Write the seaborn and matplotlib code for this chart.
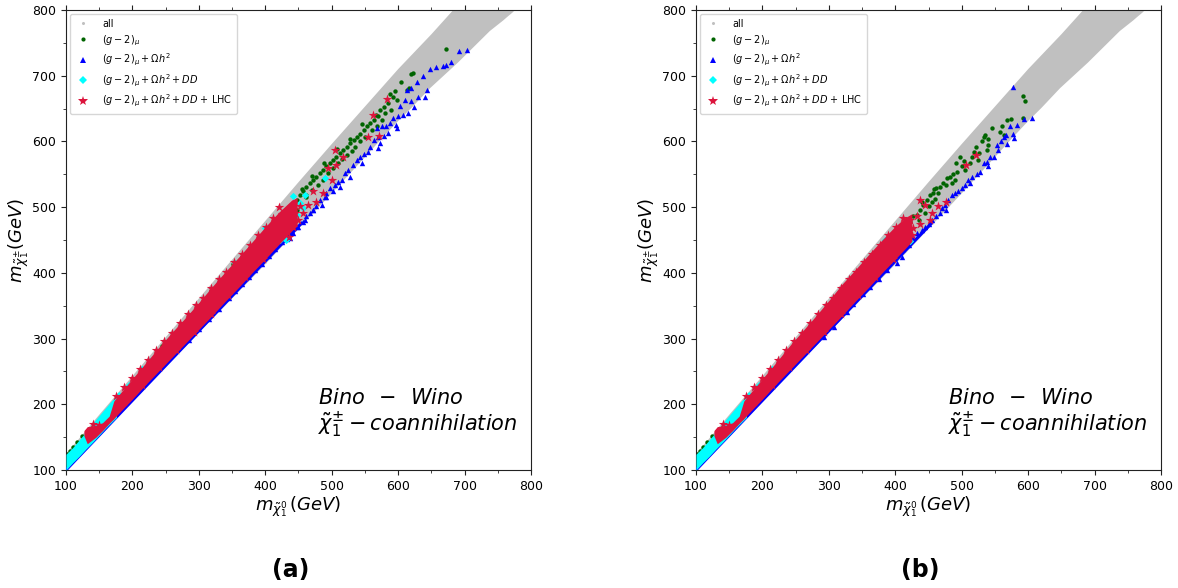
import numpy as np
import pandas as pd
import seaborn as sns
import matplotlib
matplotlib.use("Agg")
import matplotlib.pyplot as plt
from matplotlib.lines import Line2D

# ---------------------------------------------------------------- data (GeV)
# envelope of the full parameter scan ("all"), shared by both scans
all_upper_x = [100, 120, 150, 200, 250, 300, 350, 400, 450, 500, 550, 600, 650, 683, 690]
all_upper_y = [125, 148, 184, 243, 302, 361, 420, 479, 538, 596, 653, 710, 763, 800, 812]
all_lower_x = [690, 776, 772, 766, 758, 748, 738, 726, 714, 702, 690, 676, 662, 648, 634,
               620, 600, 575, 550, 500, 450, 400, 300, 200, 100]
all_lower_y = [812, 800, 796, 791, 784, 776, 768, 756, 744, 732, 720, 707, 694, 681, 666,
               651, 631, 604, 576, 521, 467, 413, 309, 204, 100]

# lower diagonal edge populated by (g-2)+relic points
edge_x = [100, 200, 300, 400, 455]
edge_y = [100, 206, 312, 418, 476]

# dense (g-2)+Omega h^2+DD+LHC strip, scan (a)
band_a_x = [127, 132, 145, 155, 165, 172, 180, 200, 220, 240, 260, 280, 300, 320, 340,
            360, 380, 400, 420, 440, 448]
band_a_hi = [160, 166, 168, 172, 182, 205, 215, 239, 263, 287, 310, 332, 355, 379, 402,
             424, 447, 470, 492, 511, 514]
band_a_lo = [152, 140, 150, 160, 171, 178, 187, 208, 230, 251, 272, 293, 314, 335, 357,
             378, 400, 421, 443, 464, 472]

# same strip, scan (b)
band_b_x = [127, 132, 145, 155, 165, 172, 180, 200, 220, 240, 260, 280, 300, 320, 340,
            360, 380, 400, 415, 425]
band_b_hi = [160, 166, 168, 172, 182, 205, 215, 239, 263, 288, 311, 334, 358, 383, 405,
             428, 450, 471, 484, 490]
band_b_lo = [152, 140, 150, 160, 171, 178, 187, 208, 230, 251, 272, 293, 314, 335, 357,
             378, 400, 421, 437, 448]

# stars sitting on the rim of the dense strip (both scans)
rim_x = [176, 188, 199, 212, 224, 236, 248, 259, 271, 283, 295, 306, 318, 330, 341, 353,
         365, 377, 389, 401, 412, 188, 214, 240, 266, 292, 318, 344, 370, 396]
rim_y = [212, 226, 240, 254, 268, 283, 297, 309, 323, 337, 351, 362, 377, 390, 402, 416,
         429, 443, 457, 470, 483, 203, 229, 256, 283, 310, 338, 366, 393, 421]

# low-mass DD region just above the diagonal
dd_corner_x = [100, 110, 120, 130, 140, 150, 160, 170, 176]
dd_corner_hi = [124, 134, 146, 158, 171, 183, 195, 207, 212]
dd_corner_lo = [100, 111, 121, 132, 142, 153, 164, 174, 180]

# (g-2)_mu points, scan (a)
g2_a_x = [102, 106, 111, 117, 124, 245, 285, 318, 352, 354, 362, 404, 447, 462,
          672, 623, 619, 617, 614, 595, 593, 585, 598, 590, 578, 573, 580, 570, 575, 563,
          558, 568, 553, 548, 560, 543, 550, 538, 533, 543, 528, 523, 535, 517, 530, 512,
          523, 507, 515, 502, 510, 497, 492, 502, 487, 495, 482, 477, 487, 472, 467, 480,
          462, 470, 457, 452, 462, 447, 442, 605, 588, 566, 545, 527, 508, 489, 470, 455]
g2_a_y = [124, 129, 135, 142, 151, 289, 330, 372, 413, 402, 409, 460, 496, 518,
          741, 704, 703, 682, 678, 676, 668, 658, 663, 648, 653, 648, 643, 638, 633, 633,
          628, 623, 623, 618, 618, 612, 607, 607, 602, 600, 597, 592, 592, 587, 585, 582,
          579, 577, 573, 572, 567, 567, 562, 559, 557, 552, 552, 546, 541, 541, 536, 534,
          531, 526, 524, 519, 516, 511, 506, 690, 672, 640, 626, 604, 589, 567, 548, 527]

# (g-2)_mu + Omega h^2 points, scan (a)
om_a_x = [691, 704, 680, 672, 668, 657, 648, 637, 628, 619, 613, 643, 641, 630, 620, 610,
          603, 624, 615, 608, 600, 593, 597, 588, 582, 575, 568, 598, 585, 578, 570, 563,
          573, 570, 558, 554, 548, 543, 545, 538, 532, 525, 528, 520, 515, 510, 512, 505,
          497, 502, 492, 490, 482, 485, 477, 472, 467, 462, 457, 450, 442, 437,
          285, 300, 315, 330, 345, 355, 365, 375, 385, 395, 405, 415, 425, 432, 440, 448,
          460, 472, 492]
om_a_y = [738, 739, 721, 716, 715, 714, 710, 700, 691, 682, 678, 679, 667, 668, 661, 663,
          654, 652, 643, 640, 638, 635, 625, 628, 624, 624, 620, 620, 613, 608, 606, 602,
          597, 590, 592, 584, 581, 577, 567, 572, 564, 557, 546, 552, 541, 539, 531, 534,
          529, 524, 521, 516, 511, 503, 501, 496, 491, 486, 478, 470, 460, 453,
          298, 314, 330, 345, 361, 372, 383, 393, 404, 414, 425, 436, 447, 452, 462, 470,
          480, 496, 516]

# (g-2)_mu + Omega h^2 + DD points, scan (a)
dd_a_x = [180, 195, 215, 226, 262, 300, 330, 355, 400, 422, 431, 437, 442, 447, 453, 457,
          460, 490]
dd_a_y = [214, 230, 254, 266, 305, 348, 385, 415, 468, 450, 450, 501, 517, 488, 507, 498,
          518, 545]

# (g-2)_mu + Omega h^2 + DD + LHC points, scan (a)
lhc_a_x = [140, 150, 583, 562, 554, 571, 505, 517, 507, 495, 500, 472, 487, 477, 465, 452,
           445, 457, 437, 450, 432, 442, 427, 435, 420, 425]
lhc_a_y = [170, 168, 664, 640, 607, 608, 587, 577, 564, 559, 541, 525, 522, 508, 503, 501,
           491, 491, 486, 481, 475, 470, 465, 455, 500, 490]

# (g-2)_mu points, scan (b)
g2_b_x = [102, 106, 111, 117, 124, 259, 299, 337, 362, 367, 375, 387, 402, 410, 412,
          593, 596, 568, 574, 592, 560, 557, 563, 535, 539, 533, 540, 522, 518, 526, 538,
          515, 524, 512, 497, 492, 500, 505, 493, 487, 482, 490, 485, 477, 472, 467, 462,
          465, 457, 452, 460, 455, 447, 442, 450, 437, 445, 432, 427, 435, 422, 417, 412,
          407, 402, 397, 545, 530, 503, 478, 458, 440]
g2_b_y = [124, 129, 135, 142, 151, 303, 351, 377, 415, 420, 425, 435, 455, 465, 475,
          669, 661, 633, 634, 635, 624, 615, 610, 610, 603, 607, 595, 592, 584, 583, 587,
          577, 572, 567, 576, 567, 562, 557, 554, 551, 546, 542, 536, 534, 536, 531, 529,
          521, 521, 519, 513, 508, 511, 503, 501, 496, 491, 488, 486, 480, 478, 473, 470,
          465, 460, 455, 620, 600, 570, 545, 528, 508]

# (g-2)_mu + Omega h^2 points, scan (b)
om_b_x = [577, 606, 594, 583, 572, 577, 579, 567, 563, 559, 553, 568, 555, 549, 543, 538,
          533, 540, 528, 523, 515, 510, 512, 505, 500, 495, 490, 485, 480, 475, 470, 477,
          467, 462, 455, 450, 445, 440, 432, 427,
          292, 307, 327, 337, 352, 362, 375, 387, 402, 410, 412, 420]
om_b_y = [683, 636, 634, 625, 623, 612, 605, 610, 607, 600, 595, 596, 587, 577, 576, 569,
          567, 562, 554, 551, 546, 541, 536, 534, 529, 525, 521, 519, 511, 503, 498, 496,
          491, 486, 480, 475, 470, 465, 460, 455,
          302, 317, 340, 352, 368, 378, 391, 404, 415, 424, 437, 443]

# (g-2)_mu + Omega h^2 + DD points, scan (b)
dd_b_x = [180, 195, 215, 262, 300, 313, 315, 355, 385, 422]
dd_b_y = [214, 230, 254, 305, 348, 346, 351, 415, 450, 449]

# (g-2)_mu + Omega h^2 + DD + LHC points, scan (b)
lhc_b_x = [140, 150, 522, 507, 477, 465, 437, 445, 455, 452, 432, 422, 437, 417, 410, 427,
           392, 425, 392, 405, 390, 412, 380, 420]
lhc_b_y = [170, 168, 579, 564, 508, 501, 511, 503, 491, 480, 486, 480, 475, 475, 468, 468,
           455, 458, 450, 442, 420, 458, 435, 465]

# ---------------------------------------------------------------- styling
sns.set_theme(style="ticks", rc={"axes.edgecolor": "#222222", "axes.linewidth": 0.8,
                                 "text.color": "black", "axes.labelcolor": "black",
                                 "xtick.color": "black", "ytick.color": "black"})
plt.rcParams["font.family"] = ["DejaVu Sans"]
plt.rcParams["mathtext.fontset"] = "dejavusans"

C_ALL, C_G2, C_OM, C_DD, C_LHC = "silver", "darkgreen", "blue", "cyan", "crimson"
S_G2, S_OM, S_DD, S_LHC = 10, 15, 14, 52

fig = plt.figure(figsize=(11.78, 5.88), dpi=100)
ax_a = fig.add_axes([66 / 1178, 118 / 588, 465 / 1178, 460 / 588])
ax_b = fig.add_axes([696 / 1178, 118 / 588, 465 / 1178, 460 / 588])

panels = [
    (ax_a, band_a_x, band_a_hi, band_a_lo, g2_a_x, g2_a_y, om_a_x, om_a_y,
     dd_a_x, dd_a_y, lhc_a_x, lhc_a_y),
    (ax_b, band_b_x, band_b_hi, band_b_lo, g2_b_x, g2_b_y, om_b_x, om_b_y,
     dd_b_x, dd_b_y, lhc_b_x, lhc_b_y),
]

for (ax, bx, bhi, blo, gx, gy, ox, oy, dx, dy, lx, ly) in panels:
    # full scan envelope
    ax.fill(all_upper_x + all_lower_x, all_upper_y + all_lower_y,
            color=C_ALL, lw=0, zorder=1)

    # (g-2)_mu
    sns.scatterplot(x=gx, y=gy, ax=ax, color=C_G2, marker="o", s=S_G2,
                    linewidth=0, zorder=2, legend=False)

    # (g-2)_mu + Omega h^2 : diagonal edge + scattered points
    sns.lineplot(x=edge_x, y=edge_y, ax=ax, color=C_OM, lw=2.2, sort=False,
                 zorder=3, legend=False)
    sns.scatterplot(x=ox, y=oy, ax=ax, color=C_OM, marker="^", s=S_OM,
                    linewidth=0, zorder=3, legend=False)

    # (g-2)_mu + Omega h^2 + DD
    ax.fill_between(dd_corner_x, dd_corner_lo, dd_corner_hi, color=C_DD, lw=0, zorder=4)
    sns.scatterplot(x=dx, y=dy, ax=ax, color=C_DD, marker="D", s=S_DD,
                    linewidth=0, zorder=4, legend=False)

    # (g-2)_mu + Omega h^2 + DD + LHC
    ax.fill_between(bx, blo, bhi, color=C_LHC, lw=0, zorder=5)
    sns.scatterplot(x=rim_x, y=rim_y, ax=ax, color=C_LHC, marker="*", s=S_LHC,
                    linewidth=0, zorder=5, legend=False)
    sns.scatterplot(x=lx, y=ly, ax=ax, color=C_LHC, marker="*", s=S_LHC,
                    linewidth=0, zorder=5, legend=False)

    ax.set_xlim(100, 800)
    ax.set_ylim(100, 800)
    ax.set_xticks(range(100, 801, 100))
    ax.set_yticks(range(100, 801, 100))
    ax.set_xticks(range(150, 800, 100), minor=True)
    ax.set_yticks(range(150, 800, 100), minor=True)
    ax.tick_params(which="both", top=True, right=False, direction="out",
                   labelsize=9, color="#222222", labelcolor="black")
    ax.tick_params(which="major", length=3.5, width=0.8)
    ax.tick_params(which="minor", length=2.5, width=0.6)
    ax.set_xlabel(r"$m_{\tilde{\chi}_1^0}\,(GeV)$", fontsize=13, labelpad=1)
    ax.set_ylabel(r"$m_{\tilde{\chi}_1^{\pm}}(GeV)$", fontsize=13, labelpad=1)

    ax.text(0.542, 0.157, r"$Bino\ \,-\ \,Wino$", transform=ax.transAxes,
            fontsize=15, va="center", ha="left")
    ax.text(0.542, 0.098, r"$\tilde{\chi}_1^{\pm}-coannihilation$", transform=ax.transAxes,
            fontsize=15, va="center", ha="left")

    handles = [
        Line2D([], [], ls="none", marker="o", ms=2.2, color=C_ALL, mew=0),
        Line2D([], [], ls="none", marker="o", ms=3.0, color=C_G2, mew=0),
        Line2D([], [], ls="none", marker="^", ms=3.8, color=C_OM, mew=0),
        Line2D([], [], ls="none", marker="D", ms=3.6, color=C_DD, mew=0),
        Line2D([], [], ls="none", marker="*", ms=7.5, color=C_LHC, mew=0),
    ]
    labels = ["all", r"$(g-2)_{\mu}$", r"$(g-2)_{\mu}+\Omega h^2$",
              r"$(g-2)_{\mu}+\Omega h^2+DD$", r"$(g-2)_{\mu}+\Omega h^2+DD$ + LHC"]
    ax.legend(handles, labels, loc="upper left", fontsize=7, frameon=True,
              borderpad=0.5, labelspacing=0.45, handletextpad=1.2, handlelength=1.6,
              borderaxespad=0.4)

fig.text(291 / 1178, 1 - 570 / 588, "(a)", fontsize=17, fontweight="bold",
         ha="center", va="center")
fig.text(920 / 1178, 1 - 570 / 588, "(b)", fontsize=17, fontweight="bold",
         ha="center", va="center")

fig.savefig("out.png", dpi=100)
